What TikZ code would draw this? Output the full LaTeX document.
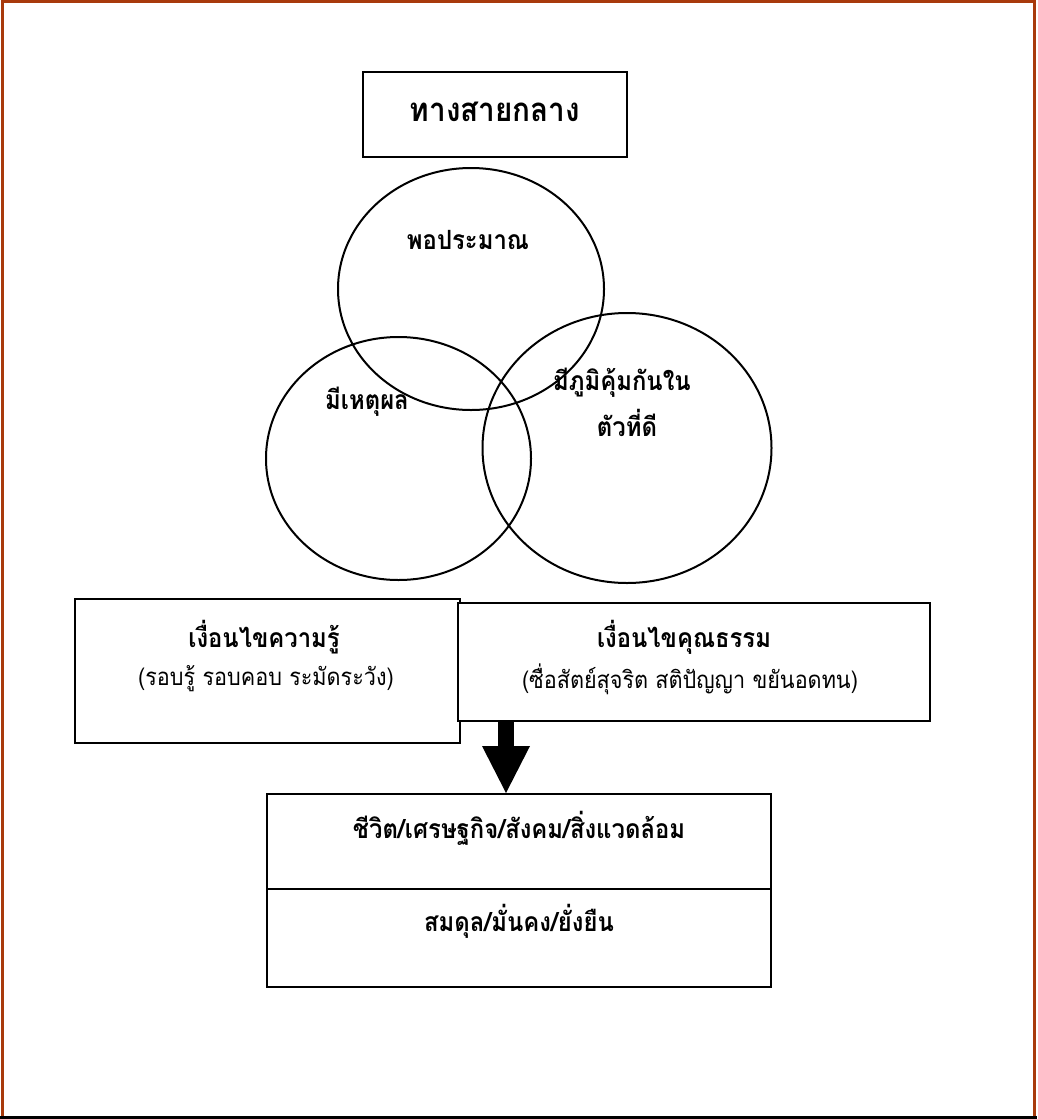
\documentclass[tikz,border=0pt]{standalone}
\usepackage{fontspec}
\newfontfamily\thaifont[Script=Thai,FakeStretch=0.9]{Loma}
\usetikzlibrary{shapes.geometric,arrows.meta}
\definecolor{framebrown}{RGB}{168,58,12}
\begin{document}
\begin{tikzpicture}[x=1pt,y=-1pt,
  box/.style={draw, line width=2pt, rectangle, inner sep=0pt},
  circ/.style={draw, line width=2pt, ellipse, inner sep=0pt},
  bt/.style={font=\thaifont\bfseries\fontsize{26.5}{30}\selectfont, inner sep=0pt},
  rt/.style={font=\thaifont\fontsize{24}{28}\selectfont, inner sep=0pt},
  tt/.style={font=\thaifont\bfseries\fontsize{33}{38}\selectfont, inner sep=0pt}]
\useasboundingbox (0,0) rectangle (1037,1119);
% frame
\draw[framebrown, line width=3pt] (2.5,1119) -- (2.5,1.2) -- (1034,1.2) -- (1034,1119);
\draw[line width=2.5pt] (0,1117.5) -- (1037,1117.5);
% title
\node[box, minimum width=264pt, minimum height=85pt] (title) at (495,114.5) {};
\node[tt] (titletext) at (495,112) {ทางสายกลาง};
% ellipses
\node[circ, minimum width=266pt, minimum height=242pt] (etop) at (471,289) {};
\node[circ, minimum width=265pt, minimum height=243pt] (eleft) at (398.5,458.5) {};
\node[circ, minimum width=289pt, minimum height=270pt] (eright) at (627,448) {};
\node[bt] (ttop) at (468,240) {พอประมาณ};
\node[bt] (tleft) at (367,402) {มีเหตุผล};
\node[bt] (tright1) at (622,383) {มีภูมิคุ้มกันใน};
\node[bt] (tright2) at (627,423) {ตัวที่ดี};
% condition boxes
\node[box, minimum width=385pt, minimum height=144pt] (kbox) at (267.5,671) {};
\node[bt] (k1) at (264,637) {เงื่อนไขความรู้};
\node[rt] (k2) at (266,679) {(รอบรู้ รอบคอบ ระมัดระวัง)};
\node[box, fill=white, minimum width=472pt, minimum height=118pt] (mbox) at (694,661.5) {};
\node[bt] (m1) at (684,637) {เงื่อนไขคุณธรรม};
\node[rt] (m2) at (690,679) {(ซื่อสัตย์สุจริต สติปัญญา ขยันอดทน)};
% result boxes
\node[box, minimum width=504pt, minimum height=95pt] (life) at (519,841.5) {};
\node[bt] (l1) at (519,828) {ชีวิต/เศรษฐกิจ/สังคม/สิ่งแวดล้อม};
\node[box, minimum width=504pt, minimum height=98pt] (bal) at (519,938) {};
\node[bt] (b1) at (519,921) {สมดุล/มั่นคง/ยั่งยืน};
% arrow
\draw[line width=16pt, -{Triangle[width=48pt,length=47pt,line width=0pt]}]
  ([xshift=49pt]mbox.south west) -- ([xshift=240pt]life.north west);
\end{tikzpicture}
\end{document}
